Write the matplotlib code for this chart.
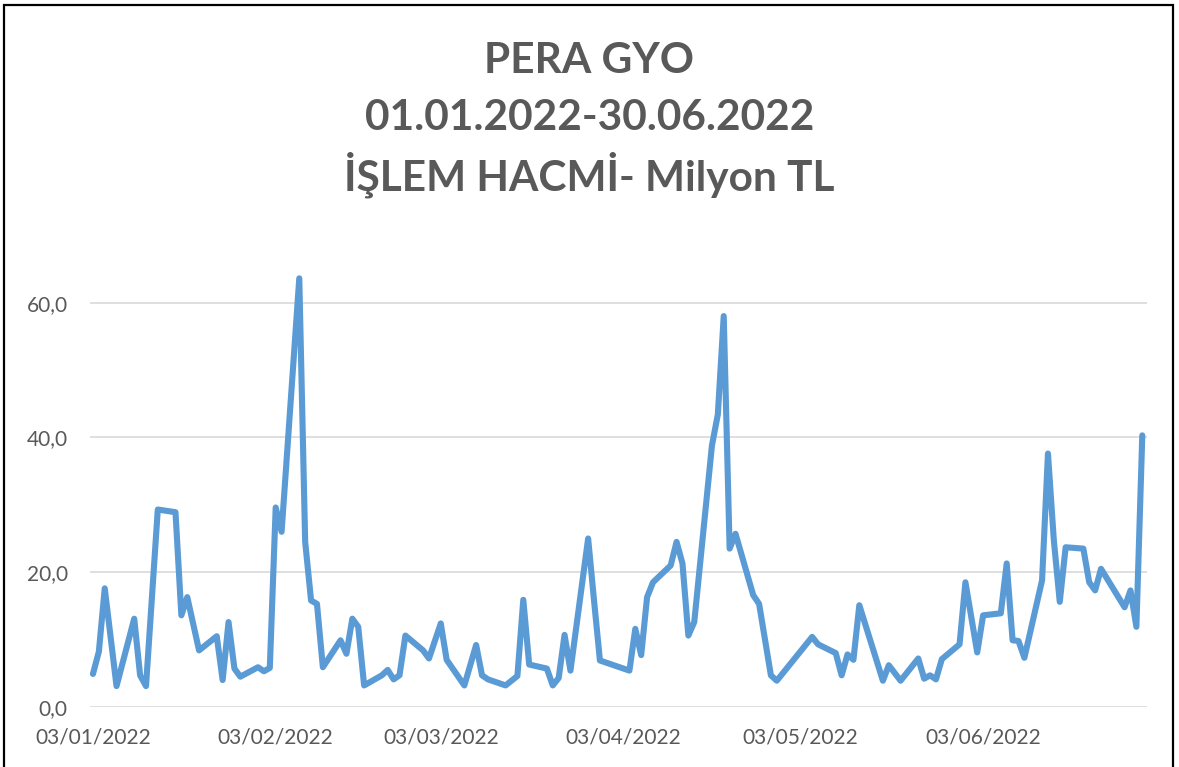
import matplotlib
matplotlib.use('Agg')
import matplotlib.pyplot as plt
import matplotlib.dates as mdates
import pandas as pd
from matplotlib.patches import Rectangle

# İşlem günleri (gg.aa.2022) ve işlem hacmi, milyon TL
dates = [
    '03.01', '04.01', '05.01', '07.01', '10.01', '11.01', '12.01', '14.01', '17.01', '18.01',
    '19.01', '21.01', '24.01', '25.01', '26.01', '27.01', '28.01', '31.01', '01.02', '02.02',
    '03.02', '04.02', '07.02', '08.02', '09.02', '10.02', '11.02', '14.02', '15.02', '16.02',
    '17.02', '18.02', '21.02', '22.02', '23.02', '24.02', '25.02', '28.02', '01.03', '03.03',
    '04.03', '07.03', '09.03', '10.03', '11.03', '14.03', '16.03', '17.03', '18.03', '21.03',
    '22.03', '23.03', '24.03', '25.03', '28.03', '29.03', '30.03', '04.04', '05.04', '06.04',
    '07.04', '08.04', '11.04', '12.04', '13.04', '14.04', '15.04', '18.04', '19.04', '20.04',
    '21.04', '22.04', '25.04', '26.04', '28.04', '29.04', '05.05', '06.05', '09.05', '10.05',
    '11.05', '12.05', '13.05', '17.05', '18.05', '20.05', '23.05', '24.05', '25.05', '26.05',
    '27.05', '30.05', '31.05', '02.06', '03.06', '06.06', '07.06', '08.06', '09.06', '10.06',
    '13.06', '14.06', '15.06', '16.06', '17.06', '20.06', '21.06', '22.06', '23.06', '27.06',
    '28.06', '29.06', '30.06',
]
volume = [
    4.9, 8.2, 17.6, 3.1, 13.1, 4.7, 3.1, 29.3, 28.9, 13.6,
    16.3, 8.4, 10.5, 4.0, 12.6, 5.7, 4.5, 5.9, 5.3, 5.8,
    29.6, 26.0, 63.6, 24.5, 15.8, 15.3, 5.9, 9.9, 7.9, 13.1,
    11.9, 3.2, 4.7, 5.5, 4.1, 4.7, 10.6, 8.4, 7.2, 12.4,
    7.0, 3.2, 9.2, 4.7, 4.1, 3.2, 4.6, 15.9, 6.3, 5.7,
    3.2, 4.3, 10.7, 5.4, 25.0, 15.8, 6.9, 5.4, 11.6, 7.7,
    16.3, 18.5, 21.0, 24.5, 21.3, 10.6, 12.6, 38.8, 43.4, 58.0,
    23.5, 25.7, 16.6, 15.3, 4.7, 3.9, 10.4, 9.3, 8.0, 4.7,
    7.8, 7.0, 15.1, 3.9, 6.2, 3.9, 7.2, 4.2, 4.7, 4.1,
    7.1, 9.3, 18.5, 8.1, 13.6, 13.9, 21.3, 9.9, 9.8, 7.3,
    18.8, 37.6, 24.7, 15.6, 23.7, 23.5, 18.5, 17.3, 20.5, 14.8,
    17.3, 11.9, 40.3,
]
tick_dates = ['03.01', '03.02', '03.03', '03.04', '03.05', '03.06']
y_ticks = [0, 20, 40, 60]
title_lines = ['PERA GYO', '01.01.2022-30.06.2022', 'İŞLEM HACMİ- Milyon TL']

x = pd.to_datetime([d + '.2022' for d in dates], format='%d.%m.%Y')
ticks = pd.to_datetime([d + '.2022' for d in tick_dates], format='%d.%m.%Y')

text_color = '#595959'
plt.rcParams['font.family'] = ['Lato', 'DejaVu Sans']

fig = plt.figure(figsize=(11.79, 7.67), dpi=100)
ax = fig.add_axes([90 / 1179, 1 - 707 / 767, 1057 / 1179, 66 * 6.74 / 767])

ax.plot(x, volume, color='#5B9BD5', linewidth=4.4,
        solid_joinstyle='round', solid_capstyle='round')

start = mdates.date2num(x[0])
ax.set_xlim(start - 0.5, start + 178.8)
ax.set_ylim(0, 66)

ax.set_xticks(ticks)
ax.xaxis.set_major_formatter(mdates.DateFormatter('%d/%m/%Y'))
ax.set_yticks(y_ticks)
ax.set_yticklabels([f'{v:.1f}'.replace('.', ',') for v in y_ticks])

ax.tick_params(axis='both', length=0, labelsize=15, labelcolor=text_color)
ax.tick_params(axis='x', pad=15)
ax.tick_params(axis='y', pad=16)
ax.grid(axis='y', color='#D9D9D9', linewidth=1.2)
ax.set_axisbelow(True)
for s in ax.spines.values():
    s.set_visible(False)

for i, line in enumerate(title_lines):
    fig.text(0.5, 1 - (61 + i * 57) / 767, line, ha='center', va='center',
             fontsize=30.5, fontweight='bold', color=text_color)

# çerçeve
fig.patches.append(Rectangle((4 / 1179, -0.05), 1169 / 1179, 1.05 - 5 / 767,
                             transform=fig.transFigure, fill=False,
                             edgecolor='black', linewidth=1.6))

fig.savefig('out.png', dpi=100)
